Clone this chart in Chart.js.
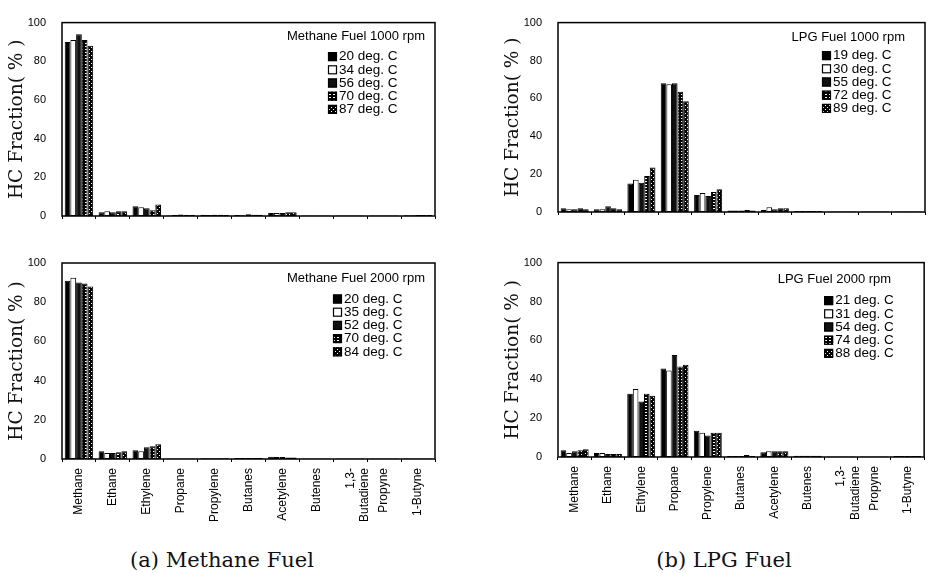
<!DOCTYPE html>
<html>
<head>
<meta charset="utf-8">
<script src="https://cdn.jsdelivr.net/npm/chart.js@4.4.1/dist/chart.umd.min.js"></script>
<style>
  body { margin: 0; background: #fff; width: 928px; height: 573px; position: relative; overflow: hidden; }
  canvas { position: absolute; }
  .cap { position: absolute; font-family: 'DejaVu Serif', serif; font-size: 21px; color: #111; transform: translateX(-50%); white-space: nowrap; }
</style>
</head>
<body>
<canvas id="c1" width="460" height="240" style="left:0;top:0"></canvas>
<canvas id="c2" width="432" height="240" style="left:496px;top:0"></canvas>
<canvas id="c3" width="460" height="300" style="left:0;top:240px"></canvas>
<canvas id="c4" width="432" height="300" style="left:496px;top:240px"></canvas>
<div class="cap" style="left:222px;top:548px">(a) Methane Fuel</div>
<div class="cap" style="left:724px;top:548px">(b) LPG Fuel</div>
<script>
// categorias (eje x)
const categories = ['Methane', 'Ethane', 'Ethylene', 'Propane', 'Propylene', 'Butanes',
  'Acetylene', 'Butenes', ['1,3-', 'Butadiene'], 'Propyne', '1-Butyne'];
const yTicks = [0, 20, 40, 60, 80, 100];

// Methane 1000 rpm
const tempsM1000 = ['20 deg. C', '34 deg. C', '56 deg. C', '70 deg. C', '87 deg. C'];
const m1000_20 = [90, 2.0, 5.0, 0.3, 0.6, 0.5, 1.5, 0.3, 0.3, 0.3, 0.4];
const m1000_34 = [91, 2.5, 4.5, 0.5, 0.5, 0.4, 1.5, 0.3, 0.3, 0.3, 0.4];
const m1000_56 = [94, 2.0, 4.0, 0.8, 0.7, 0.9, 1.5, 0.3, 0.3, 0.3, 0.5];
const m1000_70 = [91, 2.5, 3.0, 0.5, 0.6, 0.7, 2.0, 0.3, 0.3, 0.3, 0.5];
const m1000_87 = [88, 2.5, 6.0, 0.5, 0.5, 0.6, 2.0, 0.3, 0.3, 0.3, 0.5];

// Methane 2000 rpm
const tempsM2000 = ['20 deg. C', '35 deg. C', '52 deg. C', '70 deg. C', '84 deg. C'];
const m2000_20 = [91, 4.0, 4.5, 0.2, 0.4, 0.5, 1.2, 0.3, 0.3, 0.2, 0.3];
const m2000_35 = [92.5, 3.0, 4.0, 0.2, 0.4, 0.5, 1.0, 0.3, 0.3, 0.2, 0.3];
const m2000_52 = [90, 3.0, 6.0, 0.2, 0.4, 0.5, 1.0, 0.3, 0.3, 0.2, 0.3];
const m2000_70 = [89.5, 3.5, 6.5, 0.2, 0.4, 0.5, 0.8, 0.3, 0.3, 0.2, 0.3];
const m2000_84 = [88, 4.0, 7.5, 0.2, 0.4, 0.5, 0.8, 0.3, 0.3, 0.2, 0.3];

// LPG 1000 rpm
const tempsL1000 = ['19 deg. C', '30 deg. C', '55 deg. C', '72 deg. C', '89 deg. C'];
const l1000_19 = [2.0, 1.5, 15, 68, 9, 0.8, 1.0, 0.5, 0.3, 0.3, 0.3];
const l1000_30 = [1.5, 1.5, 17, 67.5, 10, 0.8, 2.5, 0.5, 0.3, 0.3, 0.3];
const l1000_55 = [1.5, 3.0, 15.5, 68, 8.5, 0.8, 1.5, 0.5, 0.3, 0.3, 0.3];
const l1000_72 = [2.0, 2.0, 19, 63.5, 10.5, 1.0, 2.0, 0.5, 0.3, 0.3, 0.3];
const l1000_89 = [1.5, 1.5, 23.5, 58.5, 12, 0.8, 2.0, 0.5, 0.3, 0.3, 0.3];

// LPG 2000 rpm
const tempsL2000 = ['21 deg. C', '31 deg. C', '54 deg. C', '74 deg. C', '88 deg. C'];
const l2000_21 = [3.5, 2.0, 32.5, 45.5, 13.5, 0.5, 2.5, 0.7, 0.3, 0.3, 0.5];
const l2000_31 = [2.0, 2.0, 35, 44.5, 12.5, 0.5, 3.0, 0.7, 0.3, 0.3, 0.5];
const l2000_54 = [3.0, 1.5, 28.5, 52.5, 11, 0.5, 3.0, 0.7, 0.3, 0.3, 0.5];
const l2000_74 = [3.5, 1.5, 32.5, 46.5, 12.5, 1.0, 3.0, 0.7, 0.3, 0.3, 0.5];
const l2000_88 = [4.0, 1.5, 31.5, 47.5, 12.5, 0.5, 3.0, 0.7, 0.3, 0.3, 0.5];

// patrones de relleno (barras 4 y 5)
function stripePattern() {
  const c = document.createElement('canvas');
  c.width = 4; c.height = 3;
  const x = c.getContext('2d');
  x.fillStyle = '#000'; x.fillRect(0, 0, 4, 3);
  x.fillStyle = '#fff'; x.fillRect(1, 1, 2, 1);
  return x.createPattern(c, 'repeat');
}
function dotPattern() {
  const c = document.createElement('canvas');
  c.width = 4; c.height = 4;
  const x = c.getContext('2d');
  x.fillStyle = '#000'; x.fillRect(0, 0, 4, 4);
  x.fillStyle = '#fff'; x.fillRect(1, 1, 1, 1); x.fillRect(3, 3, 1, 1);
  return x.createPattern(c, 'repeat');
}
const fills = ['#000', '#fff', '#111', stripePattern(), dotPattern()];

// marco + leyenda dentro del area
const panelPlugin = {
  id: 'panel',
  afterDraw(chart, args, opts) {
    const { ctx, chartArea: a } = chart;
    ctx.save();
    ctx.strokeStyle = '#000';
    ctx.lineWidth = 1.5;
    ctx.strokeRect(a.left, a.top, a.right - a.left, a.bottom - a.top);

    ctx.fillStyle = '#000';
    ctx.font = '13px Arial, "Liberation Sans", sans-serif';
    ctx.textAlign = 'right';
    ctx.textBaseline = 'middle';
    ctx.fillText(opts.title, a.right - opts.titleRight, a.top + opts.titleTop);

    ctx.font = '13.5px Arial, "Liberation Sans", sans-serif';
    ctx.textAlign = 'left';
    const x0 = a.right - opts.entryX;
    chart.data.datasets.forEach((ds, i) => {
      const y = a.top + opts.entryTop + i * 13.2;
      ctx.fillStyle = ds.backgroundColor;
      ctx.fillRect(x0, y - 4.5, 9, 9);
      ctx.lineWidth = 1.2;
      ctx.strokeRect(x0 + 0.5, y - 4, 8, 8);
      ctx.fillStyle = '#000';
      ctx.fillText(ds.label, x0 + 11, y);
    });
    ctx.restore();
  }
};

function makePanel(id, temps, series, o) {
  const ctx = document.getElementById(id).getContext('2d');
  return new Chart(ctx, {
    type: 'bar',
    data: {
      labels: categories,
      datasets: series.map((s, i) => ({
        label: temps[i],
        data: s,
        backgroundColor: fills[i],
        borderColor: '#000',
        borderWidth: 1,
        borderSkipped: false,
        categoryPercentage: 0.84,
        barPercentage: 1.0
      }))
    },
    options: {
      responsive: false,
      animation: false,
      layout: { padding: { top: o.padTop, right: o.padRight, left: 0, bottom: 0 } },
      plugins: {
        legend: { display: false },
        tooltip: { enabled: false },
        panel: { title: o.title, titleRight: o.titleRight, titleTop: o.titleTop, entryX: o.entryX, entryTop: o.entryTop }
      },
      scales: {
        x: {
          grid: { display: true, drawOnChartArea: false, drawTicks: true, tickLength: 3, color: '#000', offset: true },
          border: { display: false },
          ticks: {
            display: o.showX,
            autoSkip: false,
            minRotation: 90,
            maxRotation: 90,
            padding: 6,
            color: '#000',
            font: { family: 'Arial, "Liberation Sans", sans-serif', size: 12 }
          },
          afterFit: (scale) => { scale.height = o.xHeight; }
        },
        y: {
          min: 0,
          max: 100,
          afterBuildTicks: (scale) => { scale.ticks = yTicks.map(v => ({ value: v })); },
          grid: { display: false, drawTicks: false },
          border: { display: false },
          ticks: {
            padding: 16,
            color: '#000',
            font: { family: 'Arial, "Liberation Sans", sans-serif', size: 11 }
          },
          title: {
            display: true,
            text: 'HC Fraction( % )',
            color: '#111',
            padding: { top: 6, bottom: 0 },
            font: { family: '"DejaVu Serif", serif', size: 18.5 }
          },
          afterFit: (scale) => { scale.width = 62; }
        }
      }
    },
    plugins: [panelPlugin]
  });
}

makePanel('c1', tempsM1000, [m1000_20, m1000_34, m1000_56, m1000_70, m1000_87], {
  showX: false, padTop: 14, padRight: 25, xHeight: 24,
  title: 'Methane Fuel 1000 rpm', titleRight: 10, titleTop: 14, entryX: 107, entryTop: 34
});
makePanel('c2', tempsL1000, [l1000_19, l1000_30, l1000_55, l1000_72, l1000_89], {
  showX: false, padTop: 10, padRight: 3, xHeight: 28,
  title: 'LPG Fuel 1000 rpm', titleRight: 20, titleTop: 15, entryX: 103, entryTop: 33
});
makePanel('c3', tempsM2000, [m2000_20, m2000_35, m2000_52, m2000_70, m2000_84], {
  showX: true, padTop: 23, padRight: 25, xHeight: 81,
  title: 'Methane Fuel 2000 rpm', titleRight: 10, titleTop: 15, entryX: 102, entryTop: 36
});
makePanel('c4', tempsL2000, [l2000_21, l2000_31, l2000_54, l2000_74, l2000_88], {
  showX: true, padTop: 19, padRight: 2, xHeight: 83,
  title: 'LPG Fuel 2000 rpm', titleRight: 33, titleTop: 17, entryX: 100, entryTop: 38
});
</script>
</body>
</html>
